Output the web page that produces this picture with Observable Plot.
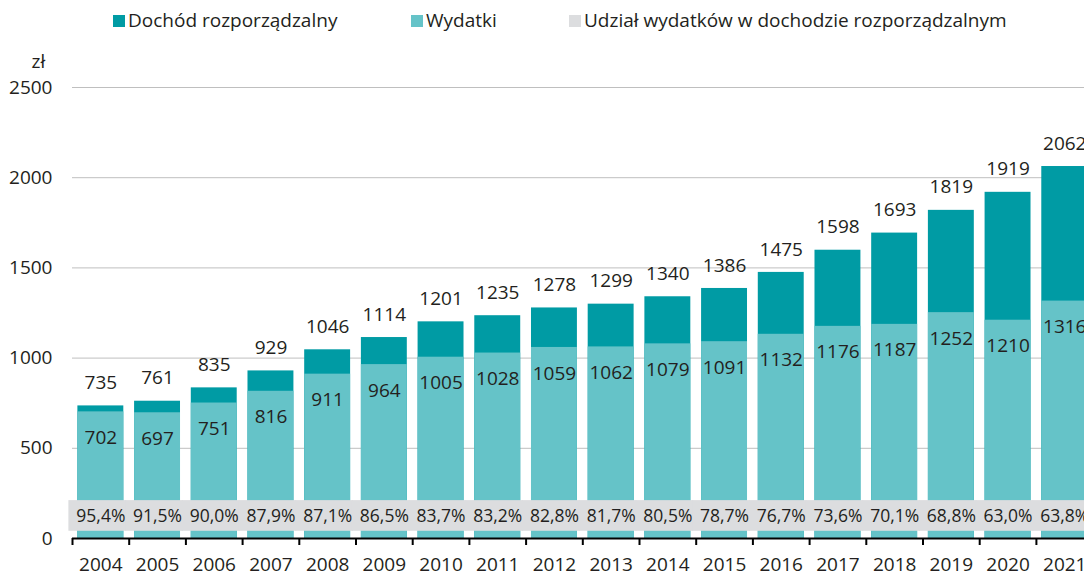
<!DOCTYPE html>
<html>
<head>
<meta charset="utf-8">
<script src="https://cdn.jsdelivr.net/npm/d3@7"></script>
<script src="https://cdn.jsdelivr.net/npm/@observablehq/plot@0.6"></script>
<style>
  html, body { margin: 0; padding: 0; background: #fff; overflow: hidden; }
  #wrap { position: relative; width: 1084px; height: 574px; }
  #legend { position: absolute; left: 0; top: 0; width: 1084px; height: 40px; font-family: "Open Sans", sans-serif; font-size: 19px; color: #231f20; }
  .lg { position: absolute; top: 7px; display: flex; align-items: center; white-space: nowrap; }
  .sw { width: 12px; height: 12px; margin-right: 3px; margin-top: 1px; }
  #chart { position: absolute; left: 0; top: 0; }
</style>
</head>
<body>
<div id="wrap">
  <div id="chart"></div>
  <div id="legend"></div>
</div>
<script>
const years = ["2004","2005","2006","2007","2008","2009","2010","2011","2012","2013","2014","2015","2016","2017","2018","2019","2020","2021"];
const income = [735,761,835,929,1046,1114,1201,1235,1278,1299,1340,1386,1475,1598,1693,1819,1919,2062];
const expenses = [702,697,751,816,911,964,1005,1028,1059,1062,1079,1091,1132,1176,1187,1252,1210,1316];
const shares = ["95,4%","91,5%","90,0%","87,9%","87,1%","86,5%","83,7%","83,2%","82,8%","81,7%","80,5%","78,7%","76,7%","73,6%","70,1%","68,8%","63,0%","63,8%"];
const yTicks = [0,500,1000,1500,2000,2500];
const seriesNames = ["Dochód rozporządzalny","Wydatki","Udział wydatków w dochodzie rozporządzalnym"];
const colors = ["#009ba4","#65c3c8","#dcdddf"];
const bandRange = [40, 210];

const data = years.map((y, i) => ({year: y, income: income[i], expenses: expenses[i], share: shares[i]}));

const W = 1084, H = 574, mL = 72, mR = -8.6, mT = 87, mB = 36;
const step = (W - mL - mR) / years.length;
const textColor = "#231f20";

const plot = Plot.plot({
  width: W, height: H,
  marginLeft: mL, marginRight: mR, marginTop: mT, marginBottom: mB,
  style: {fontFamily: "'Open Sans', sans-serif", color: textColor, background: "transparent", overflow: "visible"},
  x: {domain: years, paddingInner: 0.19, paddingOuter: 0.095, round: false, label: null},
  y: {domain: [0, 2500], label: null},
  marks: [
    Plot.gridY(yTicks.filter(d => d > 0), {stroke: "#bfbfbf", strokeOpacity: 1, strokeWidth: 1}),
    Plot.barY(data, {x: "year", y1: 0, y2: "income", fill: colors[0]}),
    Plot.barY(data, {x: "year", y1: 0, y2: "expenses", fill: colors[1]}),
    Plot.barY(data, {x: "year", y1: bandRange[0], y2: bandRange[1], fill: colors[2], insetLeft: -9, insetRight: -3}),
    Plot.text(data, {x: "year", y: (bandRange[0] + bandRange[1]) / 2, text: "share", fontSize: 17.5, fill: textColor}),
    Plot.text(data, {x: "year", y: "income", text: d => String(d.income), dy: -23, fontSize: 19, fill: textColor}),
    Plot.text(data, {x: "year", y: "expenses", text: d => String(d.expenses), dy: 26, fontSize: 19, fill: textColor}),
    Plot.ruleY([0], {stroke: "#000", strokeWidth: 2}),
    Plot.ruleX(years, {x: d => d, y1: 0, y2: 0, insetBottom: -7, dx: -step / 2, stroke: "#000", strokeWidth: 2}),
    Plot.axisY({ticks: yTicks, tickSize: 0, tickPadding: 20, fontSize: 19, tickFormat: d => String(d), fill: textColor}),
    Plot.axisX({tickSize: 0, tickPadding: 19, fontSize: 19, fill: textColor}),
    Plot.text(["zł"], {frameAnchor: "top-left", dx: -41, dy: -33, fontSize: 19, fill: textColor})
  ]
});
document.getElementById("chart").appendChild(plot);

const legendPos = [113, 411, 569];
const legend = document.getElementById("legend");
seriesNames.forEach((name, i) => {
  const el = document.createElement("div");
  el.className = "lg";
  el.style.left = legendPos[i] + "px";
  el.innerHTML = `<span class="sw" style="background:${colors[i]}"></span><span>${name}</span>`;
  legend.appendChild(el);
});
</script>
</body>
</html>
